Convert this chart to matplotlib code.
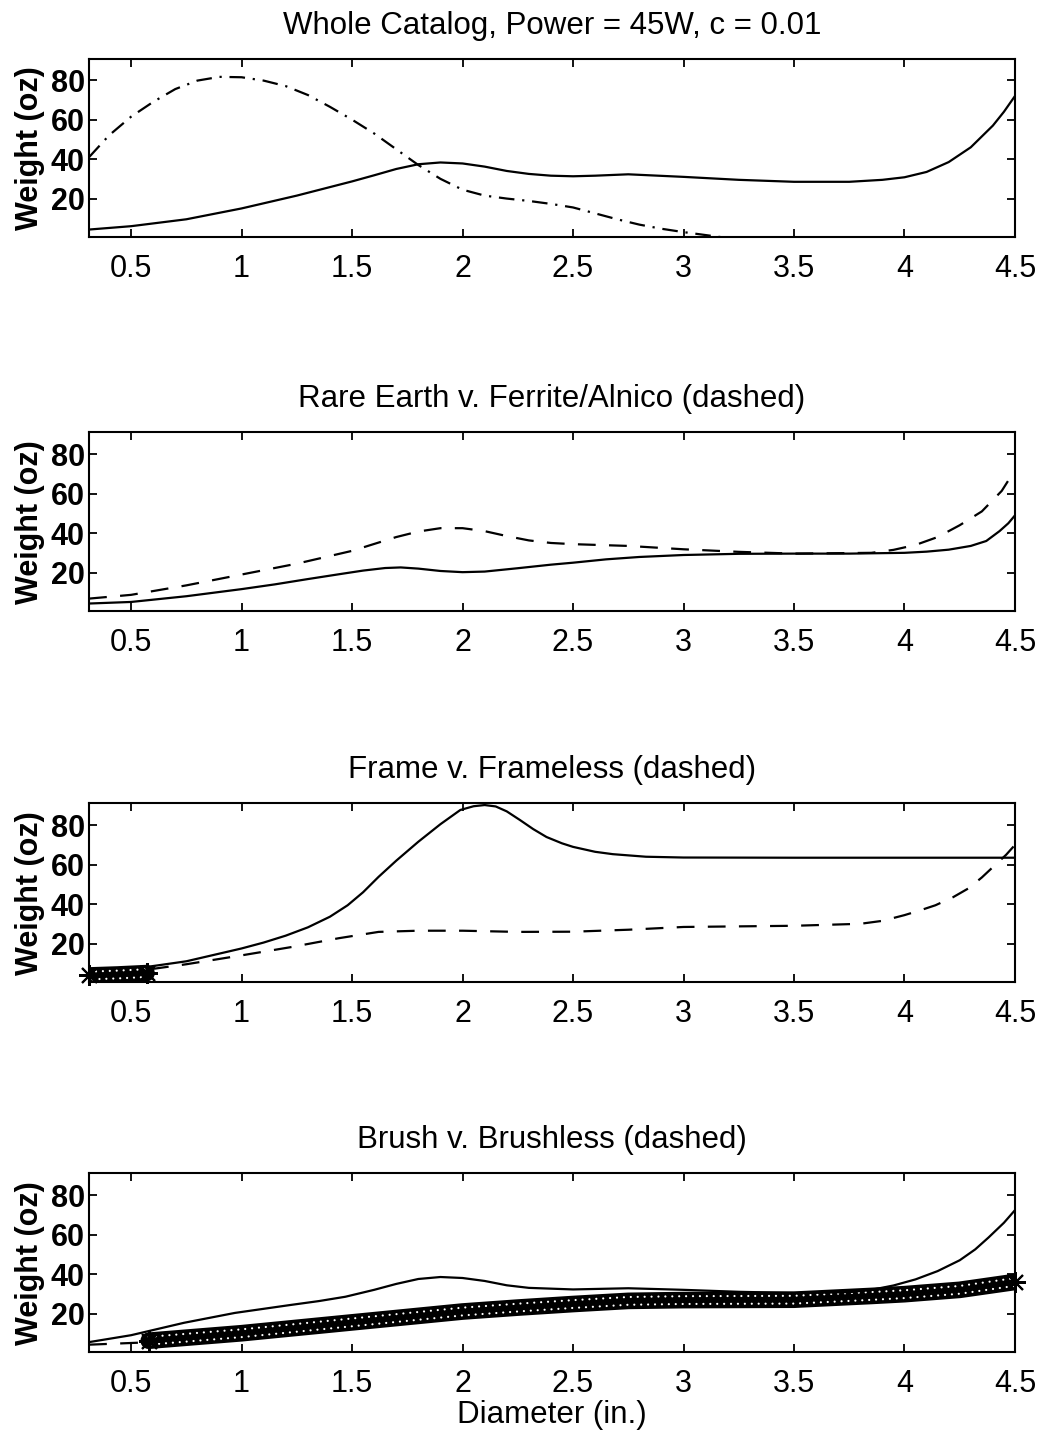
import matplotlib.pyplot as plt
import matplotlib.transforms as mtransforms

plt.rcParams['font.family'] = ['Liberation Sans', 'DejaVu Sans']

# ---- values ----
xticks = [0.5, 1, 1.5, 2, 2.5, 3, 3.5, 4, 4.5]
xtick_labels = ['0.5', '1', '1.5', '2', '2.5', '3', '3.5', '4', '4.5']
yticks = [20, 40, 60, 80]

titles = ['Whole Catalog, Power = 45W, c = 0.01',
          'Rare Earth v. Ferrite/Alnico (dashed)',
          'Frame v. Frameless (dashed)',
          'Brush v. Brushless (dashed)']

# panel 1: whole catalog (solid) and dash-dot curve
cat_x = [0.31, 0.5, 0.75, 1.0, 1.25, 1.5, 1.6, 1.7, 1.8, 1.9, 2.0, 2.1, 2.2, 2.3,
         2.4, 2.5, 2.6, 2.75, 3.0, 3.25, 3.5, 3.75, 3.9, 4.0, 4.1, 4.2, 4.3, 4.4,
         4.45, 4.5]
cat_y = [4.3, 6.0, 9.5, 15.0, 21.5, 28.7, 31.8, 35.0, 37.4, 38.3, 37.8, 36.2, 34.0,
         32.5, 31.6, 31.3, 31.6, 32.3, 31.0, 29.5, 28.5, 28.5, 29.5, 30.8, 33.5,
         38.5, 46.0, 57.0, 64.0, 72.0]
dd_x = [0.31, 0.4, 0.5, 0.6, 0.7, 0.8, 0.9, 1.0, 1.1, 1.2, 1.3, 1.4, 1.5, 1.6, 1.7,
        1.8, 1.9, 2.0, 2.1, 2.2, 2.3, 2.4, 2.5, 2.6, 2.7, 2.8, 2.9, 3.0, 3.1, 3.2]
dd_y = [41.0, 52.0, 61.5, 69.0, 75.5, 79.8, 81.7, 81.5, 79.8, 77.0, 72.5, 66.5, 60.0,
        53.0, 45.0, 37.0, 30.0, 24.5, 21.5, 20.0, 18.8, 17.3, 15.5, 12.5, 9.5, 6.8,
        4.7, 3.0, 1.5, 0.0]

# panel 2: rare earth (solid) v. ferrite/alnico (dashed)
rare_x = [0.31, 0.5, 0.75, 1.0, 1.15, 1.3, 1.45, 1.55, 1.65, 1.72, 1.8, 1.9, 2.0,
          2.1, 2.25, 2.4, 2.5, 2.65, 2.8, 3.0, 3.25, 3.5, 3.75, 4.0, 4.1, 4.2, 4.3,
          4.37, 4.43, 4.47, 4.5]
rare_y = [4.3, 5.1, 8.0, 11.6, 14.0, 16.7, 19.3, 21.0, 22.3, 22.6, 22.0, 20.8, 20.2,
          20.5, 22.2, 24.0, 25.0, 26.7, 27.9, 28.9, 29.5, 29.6, 29.6, 30.0, 30.6,
          31.6, 33.5, 36.0, 41.0, 45.0, 49.0]
ferr_x = [0.31, 0.5, 0.75, 1.0, 1.25, 1.5, 1.6, 1.7, 1.8, 1.9, 2.0, 2.1, 2.2, 2.3,
          2.4, 2.5, 2.75, 3.0, 3.25, 3.5, 3.85, 3.95, 4.05, 4.15, 4.25, 4.35, 4.44,
          4.5]
ferr_y = [6.8, 8.7, 13.5, 19.0, 24.5, 31.0, 34.5, 38.0, 40.8, 42.5, 42.5, 41.0, 38.5,
          36.3, 35.0, 34.4, 33.5, 31.8, 30.5, 29.6, 30.0, 31.5, 34.0, 38.0, 44.0,
          51.0, 61.4, 72.0]

# panel 3: frame (solid) v. frameless (dashed)
frame_x = [0.31, 0.5, 0.75, 1.0, 1.1, 1.2, 1.3, 1.4, 1.48, 1.55, 1.62, 1.7, 1.8,
           1.9, 1.99, 2.05, 2.1, 2.15, 2.2, 2.26, 2.32, 2.38, 2.45, 2.5, 2.6, 2.68,
           2.83, 3.0, 3.5, 4.0, 4.5]
frame_y = [5.0, 7.0, 11.0, 17.5, 20.5, 24.0, 28.2, 33.6, 39.4, 46.0, 53.8, 62.0,
           71.6, 80.5, 87.7, 89.6, 90.2, 89.5, 87.0, 82.6, 78.0, 74.0, 70.8, 69.0,
           66.5, 65.3, 64.0, 63.6, 63.5, 63.5, 63.5]
fless_x = [0.31, 0.55, 0.75, 1.0, 1.23, 1.44, 1.62, 1.8, 2.0, 2.25, 2.5, 2.75, 3.0,
           3.5, 3.8, 3.9, 4.0, 4.07, 4.14, 4.22, 4.29, 4.35, 4.41, 4.46, 4.5]
fless_y = [4.0, 6.4, 9.5, 14.0, 18.3, 22.7, 25.9, 26.5, 26.5, 25.9, 26.0, 27.0, 28.4,
           29.0, 30.0, 31.5, 34.4, 36.8, 39.4, 43.5, 48.0, 53.5, 59.8, 65.0, 70.0]
fless_pts_x = [0.31, 0.44, 0.57]
fless_pts_y = [3.8, 4.3, 5.0]

# panel 4: brush (solid) v. brushless (dashed + catalog points)
brush_x = [0.31, 0.5, 0.74, 0.97, 1.22, 1.35, 1.47, 1.6, 1.7, 1.8, 1.9, 2.0, 2.1,
           2.2, 2.3, 2.5, 2.75, 3.0, 3.25, 3.5, 3.75, 3.85, 3.95, 4.05, 4.15, 4.25,
           4.32, 4.38, 4.45, 4.5]
brush_y = [5.5, 9.0, 15.3, 20.3, 24.3, 26.3, 28.5, 32.0, 35.0, 37.5, 38.5, 38.0,
           36.5, 34.3, 33.0, 32.2, 32.8, 32.0, 31.0, 30.4, 30.8, 32.0, 34.2, 37.3,
           41.5, 47.0, 52.5, 58.5, 66.0, 72.4]
bless_x = [0.31, 0.6, 1.0, 1.5, 2.0, 2.5, 3.0, 3.5, 4.0, 4.5]
bless_y = [4.2, 5.5, 9.5, 15.0, 20.5, 24.3, 26.5, 27.0, 29.5, 35.5]
bless_pts_x = [0.58, 1.0, 1.5, 2.0, 2.25, 2.5, 2.75, 3.0, 3.5, 3.85, 4.0, 4.25, 4.5]
bless_pts_y = [6.2, 10.0, 15.5, 21.0, 23.0, 24.8, 26.4, 26.8, 27.0, 28.9, 29.8, 32.0, 36.0]

fig = plt.figure(figsize=(10.48, 14.34), dpi=100)

bottoms = [0.8347, 0.5739, 0.3152, 0.0572]
axes = [fig.add_axes([0.085, b, 0.8835, 0.1245]) for b in bottoms]


def style_axes(ax, title):
    ax.set_xlim(0.31, 4.5)
    ax.set_ylim(0.5, 91)
    ax.set_xticks(xticks)
    ax.set_xticklabels(xtick_labels)
    ax.set_yticks(yticks)
    ax.tick_params(direction='in', top=True, right=True, length=6, width=1.3)
    ax.tick_params(axis='x', labelsize=22, pad=12)
    ax.tick_params(axis='y', labelsize=22, pad=3)
    for lbl in ax.get_yticklabels():
        lbl.set_fontweight('bold')
    for sp in ax.spines.values():
        sp.set_linewidth(1.5)
    ax.set_ylabel('Weight (oz)', fontsize=22, fontweight='bold', labelpad=4)
    ax.set_title(title, fontsize=22.5, pad=18)


def draw_points(ax, px, py):
    # dense catalog markers drawn as a black band with two rows of holes
    ax.plot(px, py, color='black', lw=12, solid_capstyle='round', zorder=3)
    for off, phase in ((2.8, 0.0), (-2.8, 1.55)):
        tr = ax.transData + mtransforms.ScaledTranslation(0, off / 72, fig.dpi_scale_trans)
        ax.plot(px, py, color='white', lw=1.6, linestyle=(phase, (0.01, 3.1)),
                dash_capstyle='round', transform=tr, zorder=4)
    ax.plot([px[0], px[-1]], [py[0], py[-1]], linestyle='none', marker=(8, 2, 0),
            ms=15, mew=1.5, color='black', clip_on=False, zorder=5)


lw = 1.6
dash = (8, 6)

ax = axes[0]
ax.plot(cat_x, cat_y, color='black', lw=lw)
ax.plot(dd_x, dd_y, color='black', lw=lw, dashes=(7, 3.5, 1, 3.5))
style_axes(ax, titles[0])

ax = axes[1]
ax.plot(rare_x, rare_y, color='black', lw=lw)
ax.plot(ferr_x, ferr_y, color='black', lw=lw, dashes=dash)
style_axes(ax, titles[1])

ax = axes[2]
ax.plot(frame_x, frame_y, color='black', lw=lw)
ax.plot(fless_x, fless_y, color='black', lw=lw, dashes=dash)
draw_points(ax, fless_pts_x, fless_pts_y)
style_axes(ax, titles[2])

ax = axes[3]
ax.plot(bless_x, bless_y, color='black', lw=lw, dashes=dash)
draw_points(ax, bless_pts_x, bless_pts_y)
ax.plot(brush_x, brush_y, color='black', lw=lw, zorder=6)
style_axes(ax, titles[3])
ax.set_xlabel('Diameter (in.)', fontsize=22.5, labelpad=1)

fig.savefig('out.png', dpi=100)
